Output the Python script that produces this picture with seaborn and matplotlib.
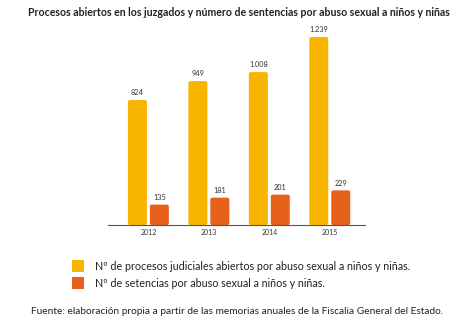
import matplotlib
matplotlib.use("Agg")
import matplotlib.pyplot as plt
import seaborn as sns
import pandas as pd
from matplotlib.patches import Patch, FancyBboxPatch

years = ["2012", "2013", "2014", "2015"]
procesos = [824, 949, 1008, 1239]
sentencias = [135, 181, 201, 229]
series_names = [
    "Nº de procesos judiciales abiertos por abuso sexual a niños y niñas.",
    "Nº de setencias por abuso sexual a niños y niñas.",
]
colors = ["#F7B500", "#E8611A"]
title = "Procesos abiertos en los juzgados y número de sentencias por abuso sexual a niños y niñas"
source = "Fuente: elaboración propia a partir de las memorias anuales de la Fiscalia General del Estado."

df = pd.DataFrame({
    "year": years * 2,
    "value": procesos + sentencias,
    "serie": [series_names[0]] * 4 + [series_names[1]] * 4,
})

sns.set_theme(style="white")
plt.rcParams["font.family"] = ["Lato", "DejaVu Sans"]

fig = plt.figure(figsize=(4.63, 3.34), dpi=100)
ax_rect = [0.233, 0.326, 0.555, 0.584]
ax = fig.add_axes(ax_rect)

sns.barplot(data=df, x="year", y="value", hue="serie", palette=colors,
            width=0.726, gap=0.135, ax=ax, legend=False, saturation=1)

xlim = (-0.67, 3.58)
ylim = (0, 1285)
ax.set_xlim(*xlim)
ax.set_ylim(*ylim)

# rounded corners for bars
px_w = ax_rect[2] * 463
px_h = ax_rect[3] * 334
aspect = ((ylim[1] - ylim[0]) / px_h) / ((xlim[1] - xlim[0]) / px_w)
rs = 2.0 / (px_w / (xlim[1] - xlim[0]))

def fmt(v):
    return f"{v:,}".replace(",", ".")

for cont in ax.containers:
    for bar in cont:
        x0, y0 = bar.get_x(), bar.get_y()
        w, h = bar.get_width(), bar.get_height()
        bar.set_visible(False)
        fb = FancyBboxPatch((x0, y0), w, h,
                            boxstyle=f"round,pad=0,rounding_size={rs}",
                            mutation_aspect=aspect,
                            facecolor=bar.get_facecolor(), edgecolor="none")
        ax.add_patch(fb)
        ax.text(x0 + w / 2, h + 25, fmt(int(h)),
                ha="center", va="bottom", fontsize=5.3, color="#333333")

ax.set_xlabel("")
ax.set_ylabel("")
ax.set_yticks([])
for s in ["top", "right", "left"]:
    ax.spines[s].set_visible(False)
ax.spines["bottom"].set_color("#555555")
ax.spines["bottom"].set_linewidth(0.8)
ax.spines["bottom"].set_zorder(5)
ax.tick_params(axis="x", labelsize=5, length=0, pad=3, colors="#333333")

fig.text(0.515, 0.962, title, ha="center", va="center", fontsize=7.6,
         fontweight="bold", color="#222222")

handles = [Patch(facecolor=c, edgecolor="none") for c in colors]
fig.legend(handles, series_names, loc="upper left", bbox_to_anchor=(0.135, 0.25),
           frameon=False, fontsize=7.75, handlelength=1.1, handleheight=1.3,
           handletextpad=1.0, labelspacing=0.5, labelcolor="#222222")

fig.text(0.512, 0.066, source, ha="center", va="center", fontsize=7.3, color="#222222")

fig.savefig("out.png", dpi=100)
